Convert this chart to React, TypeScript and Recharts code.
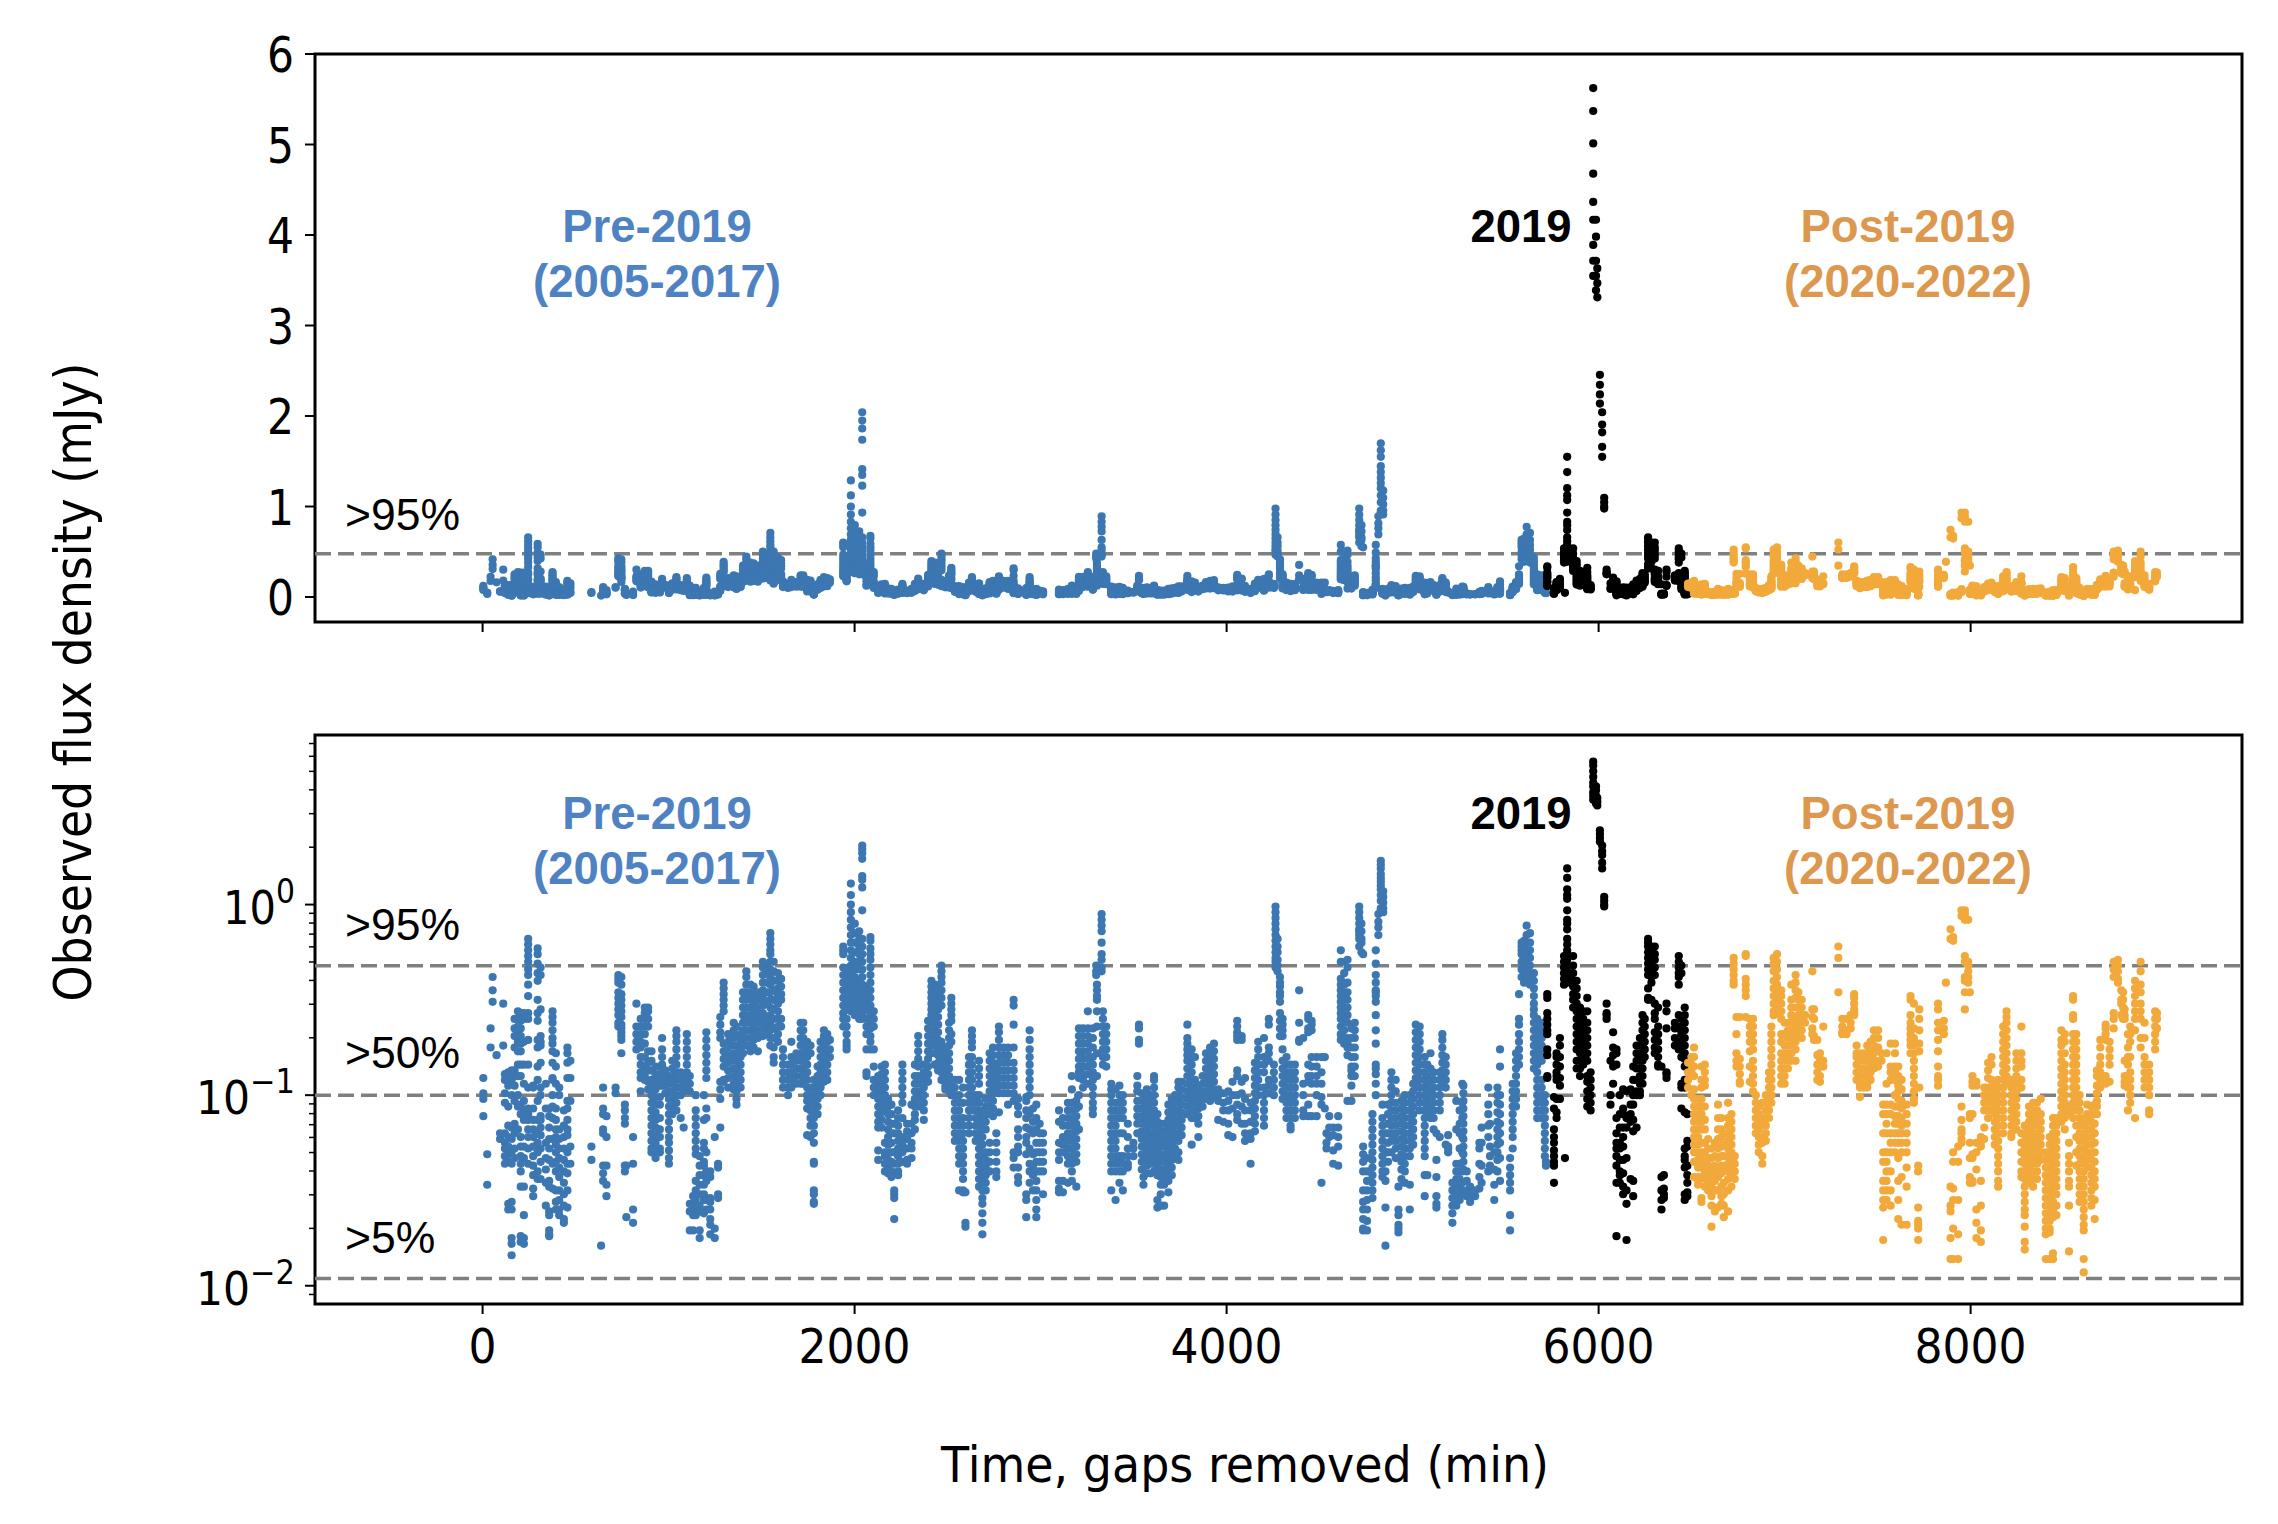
import React from "react";
import { ScatterChart, Scatter, XAxis, YAxis, ReferenceLine, ReferenceArea } from "recharts";

// Each column: [time in minutes, [log10(flux) x 100 readings at that time]]
type Col = [number, number[]];

const preA: Col[] = [
[4,[-91,-99,-102,-111]],[25,[-131,-147]],[43,[-65,-75]],[54,[-38,-45,-51]],[75,[-79]],[94,[-123,-120]],[111,[-52,-74]],
[120,[-89,-92,-99,-104,-120,-125,-128,-132,-136]],[138,[-88,-91,-95,-106,-116,-122,-127,-131,-135,-157,-160]],
[156,[-87,-92,-100,-117,-123,-130,-136,-156,-160,-175,-178,-184]],[172,[-60,-65,-69,-75,-87,-90,-95,-103,-115,-120,-128,-133]],
[190,[-56,-60,-64,-68,-72,-77,-84,-90,-100,-106,-118]],[205,[-57,-61,-65,-69,-73,-77,-84,-90,-105,-110,-122,-127,-132,-136,-140,-148,-174,-177]],
[222,[-57,-60,-72,-84,-94,-103,-108,-113,-127,-133,-148,-163,-175,-178]],[245,[-18,-21,-24,-27,-30,-34,-37,-42,-48,-57,-60,-71,-84,-96,-107,-110,-113,-118,-122,-128,-136]],
[272,[-95,-96,-107,-113,-118,-122,-127,-132,-137,-142,-149,-153]],[296,[-23,-26,-31,-36,-40,-50,-57,-61,-71,-75,-85,-92,-103,-113,-120,-125,-130,-140,-144]],
[312,[-33,-37,-55,-69,-72,-74,-83,-96,-100,-111,-113,-117,-121,-128,-135,-144]],[340,[-94,-107,-125,-133,-139,-146,-158]],
[358,[-107,-111,-117,-123,-128,-134,-145,-148,-161,-163,-171,-173,-174]],[376,[-56,-59,-62,-66,-70,-73,-77,-83,-92,-91,-100,-106,-112,-123,-136,-149]],
[394,[-78,-85,-94,-107,-113,-118,-122,-126,-130,-135,-140,-150,-156,-160]],[412,[-96,-100,-118,-123,-128,-133,-138,-143,-150,-155,-160,-163]],
[437,[-108,-116,-122,-128,-134,-140,-146,-152,-158,-165,-167]],[456,[-75,-78,-83,-91,-103,-107,-113,-118,-121,-130,-136,-141,-150,-159]],
[472,[-82,-91,-103,-127,-136]],[585,[-127,-134]],[637,[-179]],[648,[-96,-107,-110,-118,-120,-137,-141,-145]],[666,[-111,-122,-137,-147,-153]],
[715,[-96,-99]],[730,[-37,-39,-41,-46,-49,-52,-55,-58,-62,-64]],[746,[-38,-42,-47,-50,-53,-56,-59,-63,-65,-67,-69,-71,-78]],[765,[-105,-108,-112,-115,-137,-140]],
[773,[-164,-137]],[809,[-122,-136,-160,-167]],[827,[-52,-64,-68,-72,-76]],[850,[-60,-64,-68,-72,-75,-80,-84,-88,-91,-98]],[872,[-54,-57,-60,-64,-68,-73,-80,-85,-90,-92]],
[890,[-54,-56,-60,-64,-77,-83,-87,-93,-97]],[908,[-77,-82,-87,-92,-96,-100,-104,-108,-112,-116,-120,-124,-128,-130]],[930,[-85,-89,-93,-97,-101,-105,-109,-113,-117,-121,-125,-129,-133]],
[953,[-91,-93,-95,-101,-105,-112,-118,-122,-128,-130]],[965,[-70,-76,-80,-84,-87,-91,-95]],[982,[-87,-91,-95,-99]],[1002,[-90,-94,-98,-102,-106,-110,-114,-118,-122,-125,-129,-133,-136]],
[1020,[-82,-86,-90,-94,-98,-102,-106,-110]],[1042,[-66,-69,-72,-76,-80,-84,-88,-92,-96,-100,-104,-108]],[1065,[-88,-92,-96,-100,-112]],[1081,[-90,-94,-98,-117]],
[1098,[-68,-72,-76,-80,-84,-88,-92,-96]],[1114,[-90,-94,-98,-157,-161,-171]],[1132,[-153,-158,-163,-171]],[1146,[-100,-108,-112,-116,-120,-124,-128,-131,-145,-150,-155,-160,-163]],
[1167,[-132,-137,-142,-147,-152,-158,-161,-171,-175]],[1190,[-100,-113,-125,-128,-135,-137,-142,-147,-152,-155,-162]],[1203,[-67,-71,-75,-79,-83,-87,-91,-107,-112,-130,-140,-145,-155,-160]],
[1224,[-140,-143,-154,-156,-160,-165,-168,-173]],[1248,[-122,-170,-175]],[1266,[-136,-138,-152,-154]],[1278,[-59,-63,-67,-70,-117,-102,-97,-93]],
[1296,[-41,-44,-47,-50,-53,-56,-73,-77,-81,-85,-92,-93]],[1320,[-68,-72,-75,-79,-83,-87,-91,-96]],[1350,[-62,-66,-70,-74,-78,-82,-86,-90,-94,-97]],
[1365,[-64,-69,-74,-78,-82,-86,-90,-94,-98,-102,-105]],[1387,[-68,-72,-76,-80,-84,-88,-92,-96]],[1400,[-46,-50,-54,-58,-62,-66,-70,-74,-78]],
[1418,[-35,-38,-42,-46,-50,-54,-58,-62,-66,-70,-74]],[1440,[-42,-46,-50,-54,-58,-62,-66,-70,-74,-77]],[1457,[-43,-47,-51,-55,-59,-63,-67,-71,-75]],
[1480,[-46,-50,-54,-58,-62,-66,-70,-77]],[1507,[-30,-33,-37,-41,-45,-49,-53,-57,-61,-65,-69]],[1529,[-32,-36,-41,-46,-52,-60,-64,-68]],
[1547,[-15,-18,-21,-24,-26,-30,-34,-38,-42,-46,-50,-54,-58,-62,-66,-70,-74]],[1565,[-30,-35,-40,-45,-50,-55,-60,-65,-70,-75,-80,-83]],[1588,[-36,-40,-44,-48,-52,-56,-60,-64,-68,-72]],
[1605,[-39,-43,-47,-50,-60,-64]],[1615,[-76,-80,-84,-88,-92,-96]],[1642,[-84,-88,-92,-96,-100]],[1660,[-72,-80,-84,-88,-92,-96]],[1687,[-78,-82,-86,-90,-94]],
[1710,[-62,-66,-70,-74,-78,-82,-86,-90,-94]],
];

const preB: Col[] = [
[1724,[-62,-66,-70,-74,-78,-82,-86,-90,-94]],[1745,[-72,-76,-80,-84,-88,-92,-96,-100,-103,-107,-121]],[1763,[-74,-78,-96,-100,-104,-108,-112,-116,-122]],
[1781,[-92,-96,-100,-104,-108,-112,-116,-120,-125,-135,-136,-150,-152,-156,-157]],[1801,[-85,-90,-94,-98,-102,-106,-110]],[1817,[-72,-76,-80,-84,-88,-92,-96,-100]],
[1835,[-66,-69,-73,-77,-81,-85,-89,-93]],[1853,[-68,-72,-76,-80,-84,-88,-92]],[1867,[-71,-76,-80]],[1939,[-22,-24,-26,-33,-37,-41,-45,-49,-53,-57,-60,-64]],
[1957,[-35,-39,-43,-47,-51,-55,-60,-64,-68,-72,-74,-76]],[1980,[11,5,0,-4,-8,-12,-16,-20,-24,-28,-32,-36,-40,-44,-48,-52,-56]],[2001,[-10,-15,-20,-25,-30,-34,-38,-42,-46,-50,-54,-58]],
[2025,[-14,-18,-22,-26,-30,-34,-40,-44,-48,-52,-56,-60]],[2041,[31,29,27,24,15,13,9,-3,-18,-22,-26,-30,-34,-38,-42,-46,-50,-54,-58,-60]],[2064,[-43,-47,-51,-55,-60,-64,-68,-76,-88,-90]],
[2085,[-17,-19,-23,-26,-29,-33,-37,-41,-45,-49,-53,-57,-61,-65,-69,-72,-76]],[2103,[-56,-60,-64,-76,-85,-92,-96,-100]],[2127,[-90,-94,-98,-102,-106,-110,-114,-117,-129,-134]],
[2145,[-85,-89,-93,-97,-101,-105,-109,-113,-117]],[2163,[-84,-88,-92,-96,-100,-104,-107,-125,-130,-132,-136,-140]],[2180,[-102,-106,-110,-114,-118,-122,-126,-130,-134,-138,-141]],
[2198,[-105,-110,-115,-120,-125,-130,-135,-140,-143]],[2213,[-150,-152,-154,-165,-136,-130,-120,-115]],[2234,[-108,-112,-116,-120,-124,-128,-132,-136,-140,-142]],
[2257,[-84,-88,-92,-96,-100,-104,-112,-122,-126,-130,-135]],[2282,[-115,-119,-123,-128,-134,-136]],[2306,[-105,-115,-120,-125,-128,-133]],[2324,[-84,-90,-94,-98,-102,-106,-110,-113,-118]],
[2342,[-69,-73,-77,-81,-85,-90,-94,-98,-102,-106]],[2372,[-84,-88,-92,-96,-100,-104,-108,-113]],[2395,[-61,-65,-69,-73,-77,-81,-85,-89,-93]],[2413,[-40,-43,-46,-49,-52,-55,-58,-62,-66,-70,-74,-78]],
[2431,[-42,-46,-50,-54,-58,-62,-66,-70,-74,-78,-84]],[2449,[-43,-47,-51,-55,-59,-63,-67,-71,-75,-79,-83,-87]],[2467,[-32,-35,-38,-41,-45,-49,-53,-72,-76,-80,-84,-88,-92]],
[2488,[-75,-79,-83,-87,-91,-95,-97]],[2508,[-62,-66,-70,-74,-78,-82,-86,-90,-94,-98]],[2520,[-49,-52,-55,-58,-61,-68,-72,-92,-96,-100]],[2539,[-92,-96,-100,-104,-108,-112,-116,-120,-124]],
[2562,[-92,-100,-104,-108,-112,-116,-120,-124,-128,-132,-136,-150]],[2583,[-96,-104,-112,-116,-120,-124,-128,-132,-136,-140,-144,-150,-151]],[2596,[-151,-169,-167]],
[2615,[-80,-84,-88,-92,-96,-100,-104,-108,-112,-116,-120]],[2631,[-66,-69,-72,-75,-80,-84,-88,-92,-96,-100,-104,-108]],[2651,[-100,-104,-108,-112,-116,-120,-124]],
[2669,[-82,-86,-90,-94,-100,-104,-108,-112,-116,-120,-124,-128,-132,-136,-140,-144,-148]],[2687,[-110,-114,-118,-122,-126,-130,-134,-138,-142,-146,-150,-154,-157,-162,-167,-173]],
[2705,[-102,-106,-110,-114,-118,-130,-134,-138,-142,-146,-150]],[2726,[-78,-82,-86,-90,-94,-98,-102,-106,-110,-125,-130,-135,-140]],[2744,[-75,-79,-83,-87,-91,-95,-99,-103,-107,-111]],
[2762,[-85,-89,-93,-97,-120,-125,-130,-135,-140,-143]],[2776,[-64,-67,-71,-75,-79,-83,-87,-91,-95,-99,-109]],[2801,[-75,-79,-83,-87,-91,-95,-99]],[2825,[-75,-79,-83,-87,-91,-95,-99,-105]],
[2855,[-50,-53,-63,-75,-83,-87,-91,-95,-99,-103,-130,-133,-138]],[2879,[-102,-106,-110,-118,-122,-127,-130,-138,-143,-146]],[2923,[-101,-103,-108,-112,-117,-122,-125,-131,-152,-155,-164]],
[2941,[-66,-71,-76,-80,-84,-88,-92,-96,-100,-110,-118,-128,-136,-140,-146]],[2959,[-107,-114,-120,-131,-137,-142,-150]],[2977,[-105,-112,-118,-125,-130,-135,-140,-145,-150,-155,-160,-164]],
[2995,[-115,-120,-125,-130,-135,-140]],[3013,[-120,-125,-130,-135,-140,-152]],[3099,[-108,-114,-125,-130,-134,-145,-149,-151]],[3120,[-112,-116,-122,-126,-130,-145,-151]],
[3147,[-104,-108,-112,-116,-120,-124,-128,-132,-136,-146]],[3168,[-90,-97,-104,-108,-112,-116,-120,-124,-128,-132,-136,-140,-145]],[3192,[-103,-107,-111,-115,-119,-123,-127,-131,-135,-148]],
[3206,[-65,-69,-73,-77,-81,-85,-88,-91,-100,-106,-118]],[3228,[-65,-69,-73,-77,-81,-85,-89,-92,-96]],[3254,[-56,-65,-69,-73,-77,-81,-85,-89,-94]],[3281,[-65,-70,-75,-80,-84,-88,-92,-96,-100,-104,-107,-110]],
[3299,[-32,-35,-37]],[3303,[-42,-45,-48,-50,-56,-64,-78,-90]],[3328,[-5,-8,-11,-14,-20,-26,-29,-33,-35]],[3335,[-56,-60,-64,-68,-72,-76,-80,-84]],[3353,[-64,-68,-72,-76,-80,-85]],
[3380,[-94,-97,-100,-104,-108,-112,-116,-120,-124,-128,-132,-136,-140,-150]],[3403,[-97,-104,-108,-112,-116,-120,-124,-128,-132,-136,-140,-155]],[3424,[-95,-100,-104,-108,-112,-120,-132,-136,-140,-146]],
[3442,[-100,-104,-108,-112,-120,-132,-136,-140,-150]],[3469,[-115,-122,-128,-132,-136,-138]],[3499,[-128,-132,-125]],
];

const preC: Col[] = [
[3520,[-90,-95,-98,-120,-103,-107,-111,-115]],[3529,[-63,-65,-71,-73]],[3544,[-99,-103,-107,-111,-115,-119,-123,-127,-131,-135,-139]],[3553,[-147,-143]],
[3571,[-97,-101,-105,-109,-113,-117,-121,-125,-129,-133,-137,-141]],[3592,[-100,-104,-108,-112,-116,-120,-124,-128,-132,-136,-141]],[3610,[-90,-92,-96,-100,-104,-108,-112,-116,-120,-124,-128,-132,-136,-140]],
[3628,[-110,-114,-118,-122,-126,-130,-134,-138,-142,-155,-159]],[3646,[-115,-119,-123,-127,-131,-135,-139,-143,-147,-152,-158]],[3664,[-115,-119,-123,-127,-131,-135,-139,-143,-147,-158]],
[3687,[-105,-109,-113,-117,-121,-125,-129,-133,-137,-141,-145,-151]],[3705,[-102,-106,-110,-114,-118,-122,-126,-130,-134,-138,-142]],[3723,[-100,-104,-108,-112,-116,-120,-124,-128,-132]],
[3741,[-93,-96,-100,-104,-108,-112,-116,-120,-124,-130,-134]],[3758,[-93,-97,-101,-105,-109,-113,-117,-121]],[3789,[-63,-70,-73,-76,-79,-82,-86,-90,-94,-98,-102,-106,-110]],
[3812,[-76,-80,-84,-88,-92,-96,-100,-104,-108,-112,-126]],[3830,[-80,-92,-96,-100,-104,-108,-112]],[3848,[-95,-99,-103,-107,-111,-115,-122]],[3871,[-90,-94,-98,-102,-106]],
[3889,[-78,-82,-86,-90,-94,-98,-102]],[3911,[-75,-79,-83,-87,-91,-95,-99,-103]],[3932,[-73,-77,-81,-85,-89,-93,-97,-101]],[3955,[-97,-100,-103,-113]],[3982,[-99,-104,-108,-114]],
[4009,[-98,-103,-108,-115,-121]],[4032,[-93,-100,-107,-122]],[4057,[-61,-64,-67,-69,-71,-87,-90,-100,-105,-110,-113]],[4081,[-69,-71,-93,-99,-106,-115]],[4099,[-91,-102,-108,-115,-120,-124]],
[4129,[-104,-108,-114,-120,-123,-136]],[4152,[-83,-87,-91,-95,-99,-103,-107,-111,-115,-119]],[4170,[-72,-76,-80,-84,-88,-92,-96,-100]],[4201,[-70,-80,-84,-88,-96,-100,-104,-108,-112,-116]],
[4227,[-60,-63,-75,-78,-82,-92,-95,-99]],[4254,[-84,-88,-92,-96,-100]],[4263,[-1,-4,-7,-10,-13,-16,-19,-22,-25,-28,-30,-33]],[4274,[-18,-22,-25,-29,-32,-35]],
[4287,[-38,-41,-43,-46,-48,-51,-57,-61,-65,-69]],[4301,[-60,-63,-66,-69,-76,-82,-86,-90,-94,-98,-102]],[4322,[-80,-84,-88,-92,-96,-100,-104,-108,-112]],[4344,[-84,-88,-92,-96,-100,-104,-108,-112,-116,-118]],
[4367,[-84,-88,-92,-96,-100,-104,-108,-112]],[4390,[-72,-71,-62,-45]],[4412,[-70,-94,-100,-108,-111]],[4439,[-58,-60,-65,-67,-84,-90,-93,-105,-111]],[4457,[-61,-63,-66,-80,-85,-90,-94,-111]],
[4484,[-80,-85,-90,-94,-100,-111]],[4510,[-80,-88,-94,-101,-105,-146]],[4528,[-80,-107]],[4537,[-120,-125,-128]],[4552,[-111,-117,-122]],[4573,[-117,-121,-129,-136]],[4600,[-111,-117,-122,-127,-137]],
[4614,[-24,-30,-39,-42,-45,-48,-51,-54,-57,-60,-64,-68,-71]],[4632,[-30,-36,-42,-46,-50,-54,-58,-62,-66,-70,-73]],[4650,[-29,-33,-41,-46,-50,-54,-58,-62,-70,-73,-75,-79,-103]],
[4671,[-65,-70,-75,-80,-85,-87,-90,-95,-103]],[4689,[-62,-66,-70,-75,-80,-85,-90]],[4713,[-1,-4,-7,-10,-13,-14,-16,-18,-22]],[4725,[-10,-14,-18,-20,-25]],
[4734,[-26,-127,-131,-135,-140,-150,-156,-160,-165,-170,-171]],[4755,[-140,-145,-150,-155,-160,-166,-171,-133]],[4784,[-110,-114,-118,-122,-126,-130,-134,-138,-142,-146,-150,-154]],
[4802,[-24,-31,-37,-41,-45,-46,-48,-51,-58,-66,-73,-84,-86,-89,-94,-100]],[4816,[-5,-9,-12,-16]],[4829,[23,21,19,16,14,12,10,8,5,2,-2,-3]],[4838,[-105,-112,-116,-120,-124,-128,-132,-136,-140,-143]],
[4842,[7,4,1,-2,-4]],[4854,[-159,-179,-120,-130,-140,-145]],[4868,[-105,-110,-115,-120,-125,-130,-135]],[4886,[-88,-92,-96,-100,-104,-108,-112,-116,-120,-124,-130]],
[4909,[-92,-98,-104,-108,-112,-116,-120,-124,-128,-133]],[4924,[-148,-160,-163,-168,-170,-172]],[4940,[-103,-107,-111,-115,-119,-123,-127,-131,-135,-139,-144]],[4958,[-100,-104,-108,-112,-116,-120,-124,-128,-132,-136,-140,-146]],
[4985,[-100,-104,-108,-112,-116,-120,-124,-128,-132,-160,-147]],[5003,[-94,-98,-102,-106,-110,-114,-118,-122,-126]],[5017,[-63,-67,-71,-75,-79,-83,-87,-91,-95]],[5038,[-64,-68,-72,-76,-80,-84,-88,-92,-96,-100,-104,-108]],
[5065,[-80,-84,-88,-92,-96,-100,-104,-108,-112,-116,-120,-124,-128,-132,-142,-153]],[5079,[-84,-90,-94,-98,-102,-106,-110,-142]],[5096,[-78,-86,-92,-98,-104,-108,-112]],[5113,[-88,-92,-96,-100,-104,-108,-112,-118]],
[5128,[-120,-134,-143,-153,-157,-159]],[5146,[-88,-92,-96,-100,-104,-108,-122]],[5160,[-68,-71,-75,-79,-83,-87,-91,-95]],[5178,[-80,-84,-88,-92,-96,-126]],[5191,[-130,-128,-127,-121]],
[5214,[-146,-150,-154,-158,-162,-167]],[5235,[-103,-118,-136,-140,-144,-148,-152,-156,-158]],[5253,[-108,-115,-120,-128,-136,-140,-144,-148,-152,-155]],[5267,[-94,-104,-112,-122,-130,-140,-146,-150]],
[5273,[-95,-99,-103,-107,-111,-115,-119,-123,-127,-131,-135,-139]],[5291,[-140,-145,-150,-153]],[5309,[-148,-152,-156]],[5336,[-150,-153]],[5359,[-136,-143,-149,-125,-128]],
[5371,[-117,-125,-137,-146]],[5407,[-96,-105,-110,-116,-122,-140]],[5416,[-115,-127,-132,-137]],[5439,[-130,-139,-155,-147]],[5456,[-96,-100,-104,-109,-114,-118,-122,-126,-130,-134,-140]],
[5470,[-76,-85,-100,-105,-110,-115,-120,-125,-133,-145]],[5524,[-133,-138,-142,-146,-150,-163,-171]],[5538,[-94,-98,-102,-106,-110,-114,-118,-122,-128]],[5556,[-78,-82,-86,-90,-94,-98,-102,-106]],
[5572,[-47,-60,-63,-68,-72,-76,-80,-84]],[5586,[-20,-22,-24,-26,-30,-34,-38]],[5599,[-19,-22,-25,-28,-32,-35,-38,-41]],[5613,[-11,-16,-20,-24,-28,-32,-36,-40]],[5631,[-15,-20,-24,-28,-32,-36,-40,-42]],
[5652,[-36,-40,-44,-48,-52,-55,-58,-62,-66,-70,-74,-78,-82,-86]],[5670,[-60,-64,-68,-72,-76,-80,-84,-88,-92,-96,-100,-104,-108,-112]],[5694,[-62,-66,-70,-74,-78,-82,-92,-96,-100,-104,-108,-112]],
[5711,[-100,-104,-108,-112,-116,-120,-124,-128,-132]],[5717,[-135,-137]],
];

const year2019: Col[] = [
[5724,[-47,-49,-57,-60,-63,-66,-68,-76,-79,-91,-90]],[5760,[-101,-107,-118,-122,-125,-129,-132,-135,-137,-146]],[5774,[-78,-80,-84,-88,-90,-92,-102,-109,-112]],
[5792,[-70,-74,-80,-85,-91,-95,-102]],[5814,[-27,-30,-33,-36,-39,-42]],[5819,[-133]],[5831,[19,14,8,5,3,-3,-8,-10,-13,-18,-21,-24,-26,-29,-32,-35,-38,-41]],
[5863,[-27,-32,-36,-40,-43,-47,-50,-54]],[5882,[-40,-44,-48,-52,-56,-60,-64,-68,-72,-76,-82,-86]],[5900,[-54,-58,-62,-66,-70,-74,-78,-82,-86,-90]],[5917,[-56,-60,-64,-68,-72,-76,-80,-84]],
[5939,[-49,-56,-62,-66,-70,-74,-78,-82,-90,-93,-98,-102,-106]],[5957,[-88,-92,-96,-100,-104,-108]],[5971,[75,73,70,67,64,62,59,57,55]],[5986,[62,60,57,55,53]],[5993,[56,54,52]],
[6007,[39,37,35,33]],[6019,[31,28,26,22,19]],[6030,[4,2,0,-1]],[6043,[-52,-57,-58,-60]],[6064,[-82,-100,-105]],[6078,[-67,-75,-79,-94,-85]],[6096,[-76,-78,-84,-112,-120,-125,-128,-132,-137,-146,-174]],
[6114,[-100,-110,-117,-125,-128,-134,-140,-142,-146]],[6132,[-97,-107,-110,-117,-122,-127,-134,-141,-148,-152]],[6150,[-98,-112,-117,-133,-150,-157,-176]],[6172,[-97,-105,-110,-114,-144]],
[6186,[-85,-92,-100,-105,-113,-119,-145,-153]],[6204,[-74,-78,-82,-86,-92,-98,-100,-117]],[6222,[-70,-74,-78,-82,-86,-90,-94,-98,-100]],[6236,[-58,-62,-66,-70,-74,-78,-82,-86,-90,-94]],
[6248,[-60,-64,-68,-72,-76,-80]],[6266,[-18,-20,-22,-25,-28,-31,-34,-37,-44,-49,-50]],[6284,[-22,-25,-29,-32,-36,-38,-41,-50]],[6302,[-22,-26,-29,-33,-37,-52,-57,-60,-67,-71,-75,-78]],
[6320,[-54,-64,-68,-72,-76,-80,-84,-85]],[6338,[-85,-143,-150,-160,-155]],[6351,[-142,-149,-154,-152]],[6365,[-52,-56,-65,-88,-89,-91]],[6410,[-62,-65,-70,-74]],
[6431,[-27,-30,-33,-36,-38,-42,-58,-65,-72,-76]],[6445,[-32,-36,-60,-64,-68,-72,-76,-80,-94,-96,-107]],[6463,[-54,-58,-62,-66,-70,-74,-78,-81,-85,-92,-94,-96,-109,-128,-132,-134,-138,-152,-155]],
[6477,[-124,-127,-137,-142,-146,-151,-153,-110]],
];

const postA: Col[] = [
[6481,[-83,-88,-92,-96]],[6499,[-80,-84,-88,-100]],[6513,[-75,-80,-85,-90,-97,-102,-106,-110,-114,-118,-122,-126,-130,-135,-143]],[6535,[-102,-106,-110,-114,-118,-122,-126,-130,-134,-138,-143,-145,-147]],
[6553,[-85,-92,-96,-102,-106,-110,-114,-118,-125,-130,-134,-138,-143,-154,-156]],[6571,[-84,-88,-92,-95,-106,-113,-118,-125,-130,-135,-140,-144,-148]],[6589,[-123,-128,-133,-137,-141,-145,-150]],
[6607,[-128,-133,-138,-143,-148,-153,-158,-169]],[6625,[-125,-132,-137,-140,-145,-150,-159,-161]],[6642,[-105,-112,-118,-123,-128,-133,-138,-143,-150,-159]],[6660,[-112,-118,-122,-127,-132,-137,-141,-148,-153,-157]],
[6673,[-120,-126,-132,-138,-146,-152,-158,-164]],[6696,[-104,-112,-116,-120,-124,-128,-132,-136,-140,-144,-150,-161]],[6714,[-110,-114,-118,-122,-126,-130,-134,-138,-142,-148]],
[6726,[-28,-31,-34,-37,-40,-42]],[6732,[-132,-136,-140,-144]],[6741,[-59,-68,-78,-82,-85]],[6759,[-59,-81,-85,-89,-93,-94]],[6791,[-26,-27,-39,-42,-45,-48,-59]],[6813,[-60,-64,-68,-72,-77,-85,-93]],
[6830,[-60,-64,-68,-72,-76,-82,-86,-90,-94,-98]],[6845,[-100,-104,-108,-112,-116,-120]],[6861,[-106,-110,-114,-118,-122,-126,-130]],[6880,[-104,-112,-116,-122,-125,-132,-136]],[6899,[-100,-104,-108,-112,-116,-120,-124]],
[6916,[-88,-92,-96,-100,-104,-108,-112]],[6929,[-64,-68,-72,-76,-80,-84,-88,-92,-96,-100,-104]],[6941,[-28,-31,-35,-40,-44,-48,-52,-56,-58]],[6959,[-26,-30,-34,-38,-42,-46,-50,-55,-57]],
[6982,[-45,-48,-52,-56,-60,-68,-72,-78,-82,-86,-90,-94]],[7000,[-62,-68,-74,-78,-82,-86,-90,-94]],[7018,[-62,-66,-70,-74,-78,-82,-86]],[7036,[-42,-50,-54,-58,-62,-66,-70,-74,-78,-82]],
[7059,[-37,-41,-45,-49,-54,-60,-64,-68,-72,-76,-82]],[7074,[-46,-50,-54,-58,-62,-66]],[7092,[-50,-54,-58,-62,-66,-70]],[7110,[-58,-62]],[7149,[-35,-55,-59,-65,-68]],[7158,[-55,-60,-69,-71]],
[7176,[-71,-79,-84,-88,-92]],[7190,[-78,-81,-85,-90,-93]],[7208,[-64,-82,-85]],[7289,[-22,-28,-46]],[7310,[-60,-64,-67,-68]],[7333,[-60,-66,-68]],[7355,[-58,-62,-65]],[7374,[-47,-49,-52,-55,-57,-58]],
[7387,[-74,-78,-80,-84,-88,-92]],[7405,[-78,-82,-86,-90,-94,-96,-101]],[7426,[-78,-82,-86,-90,-94,-96]],[7444,[-74,-78,-82,-86,-90,-94,-96]],[7462,[-72,-76,-80,-84,-88,-92]],[7480,[-66,-70,-74,-78,-82,-86]],
];

const postB: Col[] = [
[7503,[-66,-70,-75,-82,-85]],[7521,[-78,-82]],[7530,[-105,-110,-120,-130,-135,-145,-150,-155,-159,-176]],[7548,[-78,-94,-105,-110,-115,-120,-130,-135,-140,-145,-150,-155]],
[7570,[-73,-85,-88,-92,-105,-110,-120,-125,-130,-140,-150,-158]],[7593,[-73,-78,-85,-88,-92,-100,-106,-111,-115,-120,-125,-130]],[7611,[-85,-90,-95,-98,-102,-106,-111,-115,-120,-125,-133,-145,-155,-165]],
[7629,[-92,-97,-103,-107,-112,-116,-120,-125,-130,-143,-168]],[7656,[-105,-110,-115,-120,-125,-130,-138,-148,-168]],[7677,[-48,-50,-58,-62,-65,-68,-71,-74,-78]],[7695,[-52,-65,-70,-74,-78,-82,-86,-90,-94,-98,-102,-104]],
[7718,[-137,-140,-159,-166,-168,-170,-176]],[7724,[-55,-60,-66,-73,-77,-96]],[7825,[-52,-55,-62,-66,-71,-77,-85,-90,-92,-95]],[7856,[-61,-65,-68]],[7867,[-41]],[7892,[-13,-18,-175,-186,-161,-158,-148]],
[7906,[-17,-19,-186,-170,-155,-149,-135,-130]],[7933,[-186,-173,-155,-127,-135]],[7951,[-106,-113,-118,-123,-120,-125,-3,-6]],[7969,[-3,-5,-7,-8,-27,-30,-38,-40,-55,-46]],[7987,[-8,-30,-32,-35,-38,-41]],
[7996,[-46,-110,-112,-125,-133,-143,-146]],[8010,[-90,-93,-95,-110,-131,-133,-145,-146]],[8031,[-93,-95,-125,-130,-139,-160,-167,-175]],[8055,[-158,-171,-177,-145,-127,-125,-122]],[8073,[-96,-100,-104,-108,-117,-123]],
[8094,[-83,-87,-91,-96,-100,-104,-108,-112]],[8112,[-80,-84,-92,-96,-100,-104,-108]],[8130,[-94,-98,-102,-106,-110,-114,-118,-122,-126]],[8148,[-92,-96,-100,-104,-108,-112,-116,-120,-124,-128,-132,-136,-140,-145,-148]],
[8175,[-64,-68,-72,-76,-80,-84,-88,-92,-96,-100,-104,-108,-112,-116,-120]],[8193,[-56,-59,-62,-66,-70,-74,-78,-82,-86,-90,-94]],[8219,[-92,-96,-100,-104,-108,-112,-116,-120,-122]],
[8246,[-78,-82,-86,-90,-94,-98,-102,-106,-110,-114,-118]],[8273,[-64,-78,-82,-85,-92,-96,-120,-125,-130,-135,-140,-143]],[8291,[-116,-120,-124,-128,-132,-136,-140,-144,-148,-152,-156,-160,-163,-169,-177,-181]],
[8314,[-106,-110,-114,-118,-122,-126,-130,-134,-138,-142,-146]],[8336,[-104,-108,-112,-116,-120,-124,-128,-132,-136,-140,-144,-148]],[8357,[-104,-108,-112,-116,-120,-124,-128,-132,-136,-140,-144]],
[8377,[-102,-110,-114,-118,-122,-126,-130,-134]],[8404,[-130,-134,-138,-142,-146,-150,-154,-158,-162,-166,-170,-173,-186]],[8425,[-122,-126,-130,-134,-138,-142,-146,-150,-154,-158,-162,-166,-170,-172,-186]],
[8443,[-112,-116,-120,-124,-128,-132,-136,-140,-144,-148,-152,-156,-160,-164,-183,-186]],[8461,[-112,-116,-120,-124,-128,-132,-136,-140,-144,-148,-152,-158,-163]],[8488,[-66,-71,-74,-78,-82,-86,-90,-94,-98,-102,-106,-110,-114]],
[8506,[-68,-72,-78,-84,-88,-92,-96,-100,-104,-108,-112,-118]],[8529,[-106,-110,-125,-132,-136,-140,-145,-148,-158,-182]],[8551,[-48,-50,-58,-60,-68,-72,-76,-80,-84,-88,-92,-96,-100,-104,-108,-112]],
[8568,[-68,-72,-76,-80,-84,-88,-92,-96,-100,-104,-108,-116,-122,-130,-137]],[8586,[-100,-104,-108,-112,-116,-120,-124,-128,-132,-136,-140,-144,-148,-152,-156]],
[8608,[-112,-116,-120,-124,-128,-132,-136,-140,-144,-148,-152,-156,-160,-164,-168,-171,-186,-193]],[8627,[-105,-110,-114,-118,-122,-126,-130,-134,-138]],[8649,[-106,-110,-114,-118,-122,-126,-130,-134,-138,-142,-146,-150,-154,-158]],
[8667,[-105,-110,-115,-120,-125,-130,-135,-140,-144,-148,-155,-165]],[8679,[-87,-90,-95,-99,-103,-106,-110]],[8697,[-71,-75,-80,-84,-88,-92,-96]],[8726,[-63,-65,-68,-71,-90,-94]],[8747,[-72,-76,-80,-84,-93]],
[8769,[-30,-34,-38,-57,-60,-65]],[8792,[-29,-32,-35,-39,-41]],[8810,[-45,-50,-52,-58]],[8820,[-46,-50,-54,-58,-60]],[8828,[-55,-58,-60,-82,-90,-93,-95]],[8846,[-68,-75,-80,-84,-90,-96,-108]],
[8858,[-64,-68,-72,-80,-88,-92,-96,-100,-104]],[8884,[-40,-44,-48,-52,-56,-60,-66,-112]],[8914,[-30,-35,-42,-46,-52,-56,-60,-70,-75]],[8935,[-62,-70,-80,-84,-88,-92,-96]],[8960,[-84,-88,-92,-96,-100,-108,-110]],
[8992,[-56,-60,-64,-68,-72,-76]],[9002,[-57,-60,-65]],
];

const thresholds = [0.477, 0.1, 0.0109];
const topThreshold = [0.477];
const xTicks = [0, 2000, 4000, 6000, 8000];
const linearTicks = [0, 1, 2, 3, 4, 5, 6];
const logMajor = [0.01, 0.1, 1];
const logTicks = [0.009, 0.01, 0.02, 0.03, 0.04, 0.05, 0.06, 0.07, 0.08, 0.09, 0.1, 0.2, 0.3, 0.4, 0.5, 0.6, 0.7, 0.8, 0.9, 1, 2, 3, 4, 5, 6, 7];
const X_DOMAIN: [number, number] = [-901, 9459];
const LIN_DOMAIN: [number, number] = [-0.276, 6];
const LOG_DOMAIN: [number, number] = [0.00802, 7.76];

const toPoints = (cols: Col[]) => cols.flatMap(([t, vs]) => vs.map((v) => ({ t, flux: Math.pow(10, v / 100) })));
const prePts = toPoints([...preA, ...preB, ...preC]);
const midPts = toPoints(year2019);
const postPts = toPoints([...postA, ...postB]);

const BLUE = "#3c77b2";
const ORANGE = "#f2a93b";
const DOT_R = 4.1;
const dot = (fill: string) => (p: any) => <circle cx={p.cx} cy={p.cy} r={DOT_R} fill={fill} />;
const AXIS_FONT = "'DejaVu Sans'";

const XTickTop = (p: any) => <line x1={p.x} x2={p.x} y1={p.y} y2={p.y + 10} stroke="#000" strokeWidth={2} />;
const XTickBottom = (p: any) => (
  <g>
    <line x1={p.x} x2={p.x} y1={p.y} y2={p.y + 10} stroke="#000" strokeWidth={2} />
    <text x={p.x} y={p.y + 59} textAnchor="middle" fontFamily={AXIS_FONT} fontSize={48} fill="#000"
      textLength={String(p.payload.value).length * 28} lengthAdjust="spacingAndGlyphs">{p.payload.value}</text>
  </g>
);
const YTickLin = (p: any) => (
  <g>
    <line x1={p.x - 10} x2={p.x} y1={p.y} y2={p.y} stroke="#000" strokeWidth={2} />
    <text x={p.x - 21} y={p.y + 18} textAnchor="end" fontFamily={AXIS_FONT} fontSize={50} fill="#000"
      textLength={27} lengthAdjust="spacingAndGlyphs">{p.payload.value}</text>
  </g>
);
const YTickLog = (p: any) => {
  const v = p.payload.value;
  const major = logMajor.includes(v);
  const e = Math.round(Math.log10(v));
  return (
    <g>
      <line x1={p.x - (major ? 10 : 6)} x2={p.x} y1={p.y} y2={p.y} stroke="#000" strokeWidth={major ? 2 : 1.5} />
      {major && (
        <text x={p.x - 20} y={p.y + 19} textAnchor="end" fontFamily={AXIS_FONT} fontSize={46} fill="#000"
          textLength={e === 0 ? 72 : 99} lengthAdjust="spacingAndGlyphs">
          <tspan>10</tspan>
          <tspan dy={-21} fontSize={33}>{e === 0 ? "0" : "\u2212" + Math.abs(e)}</tspan>
        </text>
      )}
    </g>
  );
};

const FONT = "'Liberation Sans'";
const Ann = ({ x, y, fill, children, weight = 700, anchor = "middle", size = 45.5 }: any) => (
  <text x={x} y={y} fill={fill} fontFamily={FONT} fontWeight={weight} fontSize={size} textAnchor={anchor}>{children}</text>
);
const PeriodLabels = ({ y }: { y: number }) => (
  <g>
    <Ann x={657} y={y} fill="#4f82c2">Pre-2019</Ann>
    <Ann x={657} y={y + 55} fill="#4f82c2">(2005-2017)</Ann>
    <Ann x={1521} y={y} fill="#000">2019</Ann>
    <Ann x={1908} y={y} fill="#dc984e">Post-2019</Ann>
    <Ann x={1908} y={y + 55} fill="#dc984e">(2020-2022)</Ann>
  </g>
);

export default function App() {
  return (
    <div style={{ position: "absolute", left: 0, top: 0, width: 2278, height: 1524, background: "#fff", overflow: "hidden" }}>
      <div style={{ position: "absolute", left: 0, top: 0 }}>
        <ScatterChart width={2278} height={700} margin={{ top: 54, right: 36, bottom: 18, left: 215 }}>
          <XAxis type="number" dataKey="t" domain={X_DOMAIN} ticks={xTicks} allowDataOverflow interval={0} height={60}
            axisLine={false} tickLine={false} tickSize={0} tickMargin={0} tick={<XTickTop />} />
          <YAxis type="number" dataKey="flux" domain={LIN_DOMAIN} ticks={linearTicks} allowDataOverflow interval={0} width={100}
            axisLine={false} tickLine={false} tickSize={0} tickMargin={0} tick={<YTickLin />} />
          <Scatter data={prePts} isAnimationActive={false} shape={dot(BLUE)} />
          <Scatter data={midPts} isAnimationActive={false} shape={dot("#000")} />
          <Scatter data={postPts} isAnimationActive={false} shape={dot(ORANGE)} />
          {topThreshold.map((v) => (
            <ReferenceLine key={v} y={v} stroke="#808080" strokeWidth={3.5} strokeDasharray="16 7" />
          ))}
          <ReferenceArea x1={X_DOMAIN[0]} x2={X_DOMAIN[1]} y1={LIN_DOMAIN[0]} y2={LIN_DOMAIN[1]} fill="none" stroke="#000" strokeWidth={3} />
        </ScatterChart>
      </div>
      <div style={{ position: "absolute", left: 0, top: 700 }}>
        <ScatterChart width={2278} height={824} margin={{ top: 35, right: 36, bottom: 120, left: 215 }}>
          <XAxis type="number" dataKey="t" domain={X_DOMAIN} ticks={xTicks} allowDataOverflow interval={0} height={100}
            axisLine={false} tickLine={false} tickSize={0} tickMargin={0} tick={<XTickBottom />} />
          <YAxis type="number" dataKey="flux" scale="log" domain={LOG_DOMAIN} ticks={logTicks} allowDataOverflow interval={0} width={100}
            axisLine={false} tickLine={false} tickSize={0} tickMargin={0} tick={<YTickLog />} />
          <Scatter data={prePts} isAnimationActive={false} shape={dot(BLUE)} />
          <Scatter data={midPts} isAnimationActive={false} shape={dot("#000")} />
          <Scatter data={postPts} isAnimationActive={false} shape={dot(ORANGE)} />
          {thresholds.map((v) => (
            <ReferenceLine key={v} y={v} stroke="#808080" strokeWidth={3.5} strokeDasharray="16 7" />
          ))}
          <ReferenceArea x1={X_DOMAIN[0]} x2={X_DOMAIN[1]} y1={LOG_DOMAIN[0]} y2={LOG_DOMAIN[1]} fill="none" stroke="#000" strokeWidth={3} />
        </ScatterChart>
      </div>
      <svg width={2278} height={1524} style={{ position: "absolute", left: 0, top: 0, pointerEvents: "none" }}>
        <PeriodLabels y={242} />
        <PeriodLabels y={829} />
        <Ann x={345} y={530} fill="#000" weight={400} anchor="start" size={44.5}>&gt;95%</Ann>
        <Ann x={345} y={940} fill="#000" weight={400} anchor="start" size={44.5}>&gt;95%</Ann>
        <Ann x={345} y={1068} fill="#000" weight={400} anchor="start" size={44.5}>&gt;50%</Ann>
        <Ann x={345} y={1253} fill="#000" weight={400} anchor="start" size={44.5}>&gt;5%</Ann>
        <text x={1245} y={1482} textAnchor="middle" fontFamily={AXIS_FONT} fontSize={50} fill="#000" textLength={608} lengthAdjust="spacingAndGlyphs">Time, gaps removed (min)</text>
        <text transform="translate(91 682) rotate(-90)" textAnchor="middle" fontFamily={AXIS_FONT} fontSize={52} fill="#000" textLength={639} lengthAdjust="spacingAndGlyphs">Observed flux density (mJy)</text>
      </svg>
    </div>
  );
}
